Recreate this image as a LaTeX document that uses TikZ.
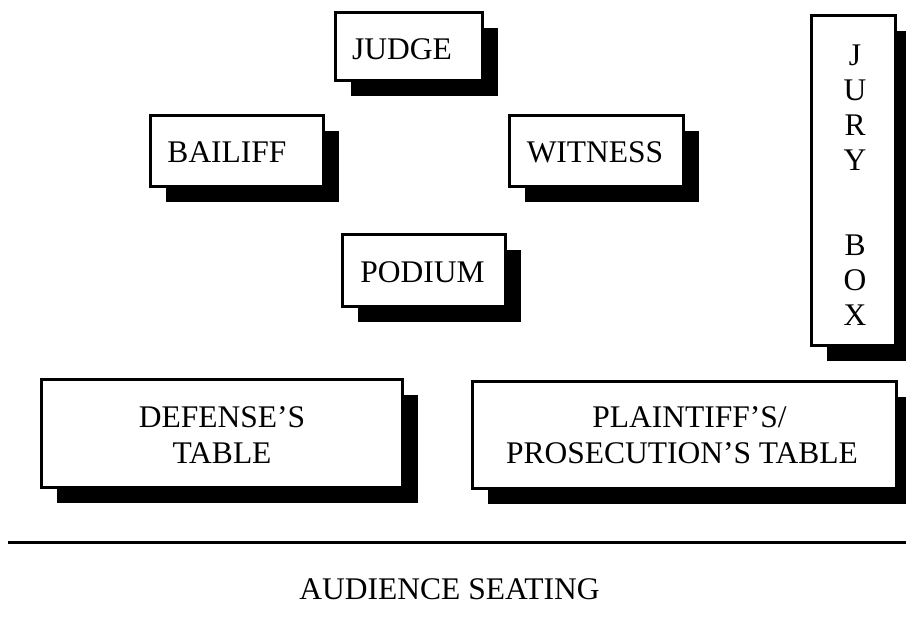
\documentclass[tikz,border=0pt]{standalone}
\usepackage{fontspec}
\setmainfont{Liberation Serif}
\usetikzlibrary{shadows}
\tikzset{
  room/.style={draw, line width=3pt, fill=white, rectangle, inner sep=0pt,
    drop shadow={shadow xshift=15pt, shadow yshift=-15pt, fill=black, opacity=1}},
  lbl/.style={font=\fontsize{31.5}{35}\selectfont, align=center, inner sep=0pt},
  tbl/.style={font=\fontsize{31.5}{36}\selectfont, align=center, inner sep=0pt}
}
\begin{document}
\begin{tikzpicture}[x=1pt, y=-1pt]
\useasboundingbox (0,0) rectangle (906,643);
% boxes
\node[room, minimum width=147pt, minimum height=68pt] (judge) at (409,46.5) {};
\node[room, minimum width=173pt, minimum height=71pt] (bailiff) at (237,151) {};
\node[room, minimum width=174pt, minimum height=71pt] (witness) at (596.5,151) {};
\node[room, minimum width=163pt, minimum height=72pt] (podium) at (424,270.5) {};
\node[room, minimum width=84pt, minimum height=330pt] (jury) at (853.5,180.5) {};
\node[room, minimum width=361pt, minimum height=108pt] (defense) at (222,433.5) {};
\node[room, minimum width=424pt, minimum height=107pt] (plaintiff) at (684.5,435) {};
% labels
\node[lbl] (judgetxt) at ([xshift=-7pt,yshift=-3pt]judge.center) {JUDGE};
\node[lbl] (bailifftxt) at ([xshift=-10pt,yshift=-1.5pt]bailiff.center) {BAILIFF};
\node[lbl] (witnesstxt) at ([xshift=-1.5pt,yshift=-1.5pt]witness.center) {WITNESS};
\node[lbl] (podiumtxt) at ([xshift=-1.5pt,yshift=-2pt]podium.center) {PODIUM};
\node[lbl] (jurytxt) at ([xshift=1.5pt,yshift=-4.5pt]jury.center) {J\\U\\R\\Y\\[50pt]B\\O\\X};
\node[tbl] (defensetxt) at ([yshift=-1.5pt]defense.center) {DEFENSE’S\\TABLE};
\node[tbl] (plaintifftxt) at ([xshift=-2.5pt,yshift=-0.5pt]plaintiff.center) {\hspace*{15pt}PLAINTIFF’S/\\PROSECUTION’S TABLE};
% audience divider
\coordinate (lineL) at (8,542);
\coordinate (lineR) at (906,542);
\draw[line width=3pt] (lineL) -- (lineR);
\node[lbl] (audience) at (449.5,589) {AUDIENCE SEATING};
\end{tikzpicture}
\end{document}
